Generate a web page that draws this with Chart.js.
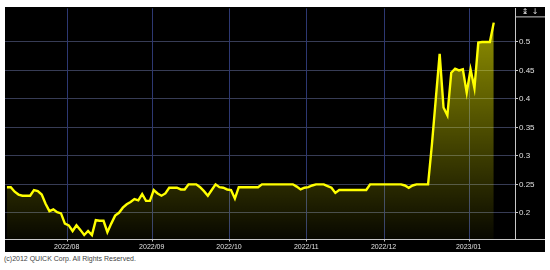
<!DOCTYPE html>
<html>
<head>
<meta charset="utf-8">
<script src="https://cdn.jsdelivr.net/npm/chart.js@4/dist/chart.umd.min.js"></script>
<style>
  body { margin: 0; background: #fff; }
  #wrap { position: absolute; left: 5px; top: 7px; width: 540px; height: 245px; background: #000; }
  #copy { position: absolute; left: 4px; top: 255px; font: 7px "Liberation Sans", Arial, sans-serif; color: #444; white-space: nowrap; }
</style>
</head>
<body>
<div id="wrap"><canvas id="chart"></canvas></div>
<div id="copy">(c)2012 QUICK Corp. All Rights Reserved.</div>
<script>
// trading days (TSE) per month
const days2207 = [7, 8, 11, 12, 13, 14, 15, 19, 20, 21, 22, 25, 26, 27, 28, 29];
const days2208 = [1, 2, 3, 4, 5, 8, 9, 10, 12, 15, 16, 17, 18, 19, 22, 23, 24, 25, 26, 29, 30, 31];
const days2209 = [1, 2, 5, 6, 7, 8, 9, 12, 13, 14, 15, 16, 20, 21, 22, 26, 27, 28, 29, 30];
const days2210 = [3, 4, 5, 6, 7, 11, 12, 13, 14, 17, 18, 19, 20, 21, 24, 25, 26, 27, 28, 31];
const days2211 = [1, 2, 4, 7, 8, 9, 10, 11, 14, 15, 16, 17, 18, 21, 22, 24, 25, 28, 29, 30];
const days2212 = [1, 2, 5, 6, 7, 8, 9, 12, 13, 14, 15, 16, 19, 20, 21, 22, 23, 26, 27, 28, 29, 30];
const days2301 = [4, 5, 6, 10, 11, 12, 13, 16, 17, 18, 19, 20];

// closing prices
const price2207 = [0.245, 0.245, 0.237, 0.232, 0.23, 0.23, 0.23, 0.24, 0.238, 0.232, 0.216, 0.203, 0.206, 0.201, 0.199, 0.181];
const price2208 = [0.178, 0.168, 0.178, 0.170, 0.161, 0.168, 0.161, 0.187, 0.186, 0.186, 0.166, 0.181, 0.195, 0.2, 0.209, 0.215, 0.219, 0.224, 0.222, 0.233, 0.221, 0.221];
const price2209 = [0.24, 0.234, 0.23, 0.234, 0.244, 0.244, 0.244, 0.241, 0.241, 0.25, 0.25, 0.25, 0.245, 0.238, 0.23, 0.24, 0.25, 0.245, 0.244, 0.241];
const price2210 = [0.24, 0.225, 0.245, 0.245, 0.245, 0.245, 0.245, 0.245, 0.25, 0.25, 0.25, 0.25, 0.25, 0.25, 0.25, 0.25, 0.25, 0.246, 0.241, 0.244];
const price2211 = [0.245, 0.248, 0.25, 0.25, 0.25, 0.247, 0.244, 0.235, 0.24, 0.24, 0.24, 0.24, 0.24, 0.24, 0.24, 0.24, 0.25, 0.25, 0.25, 0.25];
const price2212 = [0.25, 0.25, 0.25, 0.25, 0.25, 0.248, 0.244, 0.248, 0.25, 0.25, 0.25, 0.25, 0.32, 0.40, 0.479, 0.385, 0.371, 0.446, 0.453, 0.45, 0.452, 0.411];
const price2301 = [0.452, 0.419, 0.499, 0.5, 0.5, 0.5, 0.534];

const yTicks = [0.2, 0.25, 0.3, 0.35, 0.4, 0.45, 0.5];

function monthLabels(prefix, days) {
  return days.map(d => prefix + "/" + String(d).padStart(2, "0"));
}

const labels = [].concat(
  monthLabels("2022/07", days2207),
  monthLabels("2022/08", days2208),
  monthLabels("2022/09", days2209),
  monthLabels("2022/10", days2210),
  monthLabels("2022/11", days2211),
  monthLabels("2022/12", days2212),
  monthLabels("2023/01", days2301)
);
const closes = [].concat(price2207, price2208, price2209, price2210, price2211, price2212, price2301);

// first trading day of a month gets a tick and grid line
function isMonthStart(i) {
  if (typeof i !== "number" || i <= 0 || i >= labels.length) return false;
  return labels[i].slice(0, 7) !== labels[i - 1].slice(0, 7);
}

function fillGradient(context) {
  const chart = context.chart;
  const area = chart.chartArea;
  if (!area) return "rgba(255,255,0,0.2)";
  const g = chart.ctx.createLinearGradient(0, area.top, 0, area.bottom);
  g.addColorStop(0, "rgba(255,255,0,0.6)");
  g.addColorStop(1, "rgba(255,255,0,0.03)");
  return g;
}

// month lines sit on the boundary before the first trading day
function monthLinePixels(chart) {
  const x = chart.scales.x;
  const half = (x.getPixelForValue(1) - x.getPixelForValue(0)) / 2;
  const out = [];
  labels.forEach((l, i) => {
    if (isMonthStart(i)) out.push(Math.round(x.getPixelForValue(i) - half) + 0.5);
  });
  return out;
}

const monthGrid = {
  id: "monthGrid",
  beforeDatasetsDraw(chart) {
    const ctx = chart.ctx;
    const a = chart.chartArea;
    ctx.save();
    ctx.strokeStyle = "#2d3872";
    ctx.lineWidth = 1;
    ctx.beginPath();
    monthLinePixels(chart).forEach(px => {
      ctx.moveTo(px, a.top);
      ctx.lineTo(px, a.bottom);
    });
    ctx.stroke();
    ctx.restore();
  },
  afterDraw(chart) {
    const ctx = chart.ctx;
    const a = chart.chartArea;
    const bottom = Math.round(a.bottom) + 0.5;
    ctx.save();
    ctx.strokeStyle = "#c8c8c8";
    ctx.lineWidth = 1;
    ctx.beginPath();
    monthLinePixels(chart).forEach(px => {
      ctx.moveTo(px, bottom);
      ctx.lineTo(px, bottom + 2);
    });
    // extra lines of the price axis box
    ctx.moveTo(a.right, bottom);
    ctx.lineTo(chart.width, bottom);
    ctx.moveTo(a.right, a.top + 8.5);
    ctx.lineTo(chart.width, a.top + 8.5);
    ctx.stroke();
    ctx.fillStyle = "#ddd";
    ctx.font = "8px 'DejaVu Sans'";
    ctx.textAlign = "center";
    ctx.textBaseline = "middle";
    ctx.fillText("↨", a.right + 10, a.top + 4);
    ctx.fillText("↓", a.right + 20, a.top + 4);
    ctx.restore();
  }
};

new Chart(document.getElementById("chart"), {
  type: "line",
  data: {
    labels: labels,
    datasets: [{
      data: closes,
      borderColor: "#ffff00",
      borderWidth: 2.4,
      backgroundColor: fillGradient,
      fill: "start",
      pointRadius: 0,
      tension: 0
    }]
  },
  options: {
    responsive: true,
    maintainAspectRatio: false,
    animation: false,
    layout: { padding: 0 },
    plugins: { legend: { display: false }, tooltip: { enabled: false } },
    scales: {
      x: {
        offset: true,
        grid: { offset: true, color: "transparent", tickColor: "transparent", tickLength: 2 },
        border: { display: true, color: "#c8c8c8" },
        ticks: {
          autoSkip: false,
          maxRotation: 0,
          padding: 2,
          labelOffset: -2,
          color: "#e0e0e0",
          font: { family: "Liberation Sans", size: 7 },
          callback: (v, i) => isMonthStart(i) ? labels[i].slice(0, 7) : null
        },
        afterFit: s => { s.height = 13; }
      },
      y: {
        position: "right",
        min: 0.154,
        max: 0.559,
        afterBuildTicks: s => { s.ticks = yTicks.map(v => ({ value: v })); },
        grid: { color: "#373c55", tickColor: "#c8c8c8", tickLength: 3 },
        border: { color: "#c8c8c8" },
        ticks: {
          padding: 1,
          color: "#e0e0e0",
          font: { family: "Liberation Sans", size: 8, lineHeight: 0.1 },
          callback: v => String(+v.toFixed(2))
        },
        afterFit: s => { s.width = 30; }
      }
    }
  },
  plugins: [monthGrid]
});
</script>
</body>
</html>
